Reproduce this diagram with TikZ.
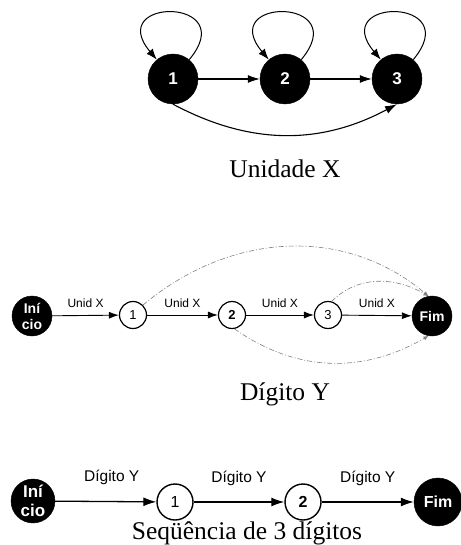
\documentclass[tikz,border=0pt]{standalone}
\usepackage{fontspec}
\setmainfont{Liberation Serif}
\setsansfont{Liberation Sans}
\usetikzlibrary{arrows.meta}
\tikzset{
  bigstate/.style={circle, fill=black, draw=black, inner sep=0pt, minimum size=50pt,
    text=white, font=\sffamily\bfseries\fontsize{17}{19}\selectfont},
  endstate/.style={circle, fill=black, draw=black, inner sep=0pt, text=white, align=center},
  smallstate/.style={circle, draw=black, fill=white, inner sep=0pt, line width=1.2pt},
  toparr/.style={-{Latex[length=12pt,width=8pt]}, line width=1.1pt},
  midarr/.style={-{Latex[length=10pt,width=7pt]}, line width=0.9pt},
  botarr/.style={-{Latex[length=13pt,width=9pt]}, line width=1.3pt},
  dasharr/.style={-{Latex[length=5pt,width=4pt]}, draw=black!50, line width=0.6pt,
    dash pattern=on 5pt off 2pt on 1pt off 2pt},
  caption/.style={anchor=base, inner sep=0pt, font=\rmfamily\fontsize{25.5}{29}\selectfont},
  elabm/.style={midway, anchor=base, inner sep=0pt, yshift=8pt, font=\sffamily\fontsize{12}{14}\selectfont},
  elabb/.style={midway, anchor=base, inner sep=0pt, yshift=20pt, font=\sffamily\fontsize{15.5}{17}\selectfont}
}
\begin{document}
\begin{tikzpicture}[x=1pt,y=1pt]
\useasboundingbox (0,0) rectangle (460,-545);

% ---------- Unidade X ----------
\node[bigstate] (t1) at (173,-79) {1};
\node[bigstate] (t2) at (285,-79) {2};
\node[bigstate] (t3) at (397,-79) {3};
\draw[toparr] (t1) -- (t2);
\draw[toparr] (t2) -- (t3);
\draw[toparr] (t1.south) to[out=-28,in=-152] (t3.south);
\draw[-{Latex[length=11pt,width=8pt]}, line width=1pt] (t1) to[out=50,in=130,min distance=82pt] (t1);
\draw[-{Latex[length=11pt,width=8pt]}, line width=1pt] (t2) to[out=50,in=130,min distance=82pt] (t2);
\draw[-{Latex[length=11pt,width=8pt]}, line width=1pt] (t3) to[out=50,in=130,min distance=82pt] (t3);
\node[caption] (capA) at (285,-178) {Unidade X};

% ---------- Digito Y ----------
\node[endstate, minimum size=40pt, font=\sffamily\bfseries\fontsize{14}{16}\selectfont] (ini) at (32,-316) {Iní\\cio};
\node[smallstate, minimum size=27pt, font=\sffamily\fontsize{13}{15}\selectfont] (m1) at (133,-315) {1};
\node[smallstate, minimum size=27pt, font=\sffamily\bfseries\fontsize{13}{15}\selectfont] (m2) at (232,-315) {2};
\node[smallstate, minimum size=27pt, font=\sffamily\fontsize{13}{15}\selectfont] (m3) at (328,-315) {3};
\node[endstate, minimum size=40pt, font=\sffamily\bfseries\fontsize{14}{16}\selectfont] (fim) at (432,-316) {Fim};
\draw[midarr] (ini) -- node[elabm] {Unid X} (m1);
\draw[midarr] (m1) -- node[elabm] {Unid X} (m2);
\draw[midarr] (m2) -- node[elabm] {Unid X} (m3);
\draw[midarr] (m3) -- node[elabm] {Unid X} (fim);
\draw[dasharr] (m1.45) to[out=40,in=140] (fim.100);
\draw[dasharr] (m3.75) to[out=45,in=150] (fim.100);
\draw[dasharr] (m2.-80) to[out=-35,in=-150] (fim.-100);
\node[caption] (capB) at (285,-400) {Dígito Y};

% ---------- Sequencia ----------
\node[endstate, minimum size=44pt, font=\sffamily\bfseries\fontsize{17}{19}\selectfont] (bini) at (33,-501) {Iní\\cio};
\node[smallstate, minimum size=36pt, line width=1.4pt, font=\sffamily\fontsize{16}{18}\selectfont] (b1) at (175,-502) {1};
\node[smallstate, minimum size=36pt, line width=1.4pt, font=\sffamily\bfseries\fontsize{16}{18}\selectfont] (b2) at (303,-502) {2};
\node[endstate, minimum size=48pt, font=\sffamily\bfseries\fontsize{16}{18}\selectfont] (bfim) at (438,-502) {Fim};
\draw[botarr] (bini) -- node[elabb, xshift=6pt] {Dígito Y} (b1);
\draw[botarr] (b1) -- node[elabb] {Dígito Y} (b2);
\draw[botarr] (b2) -- node[elabb] {Dígito Y} (bfim);
\node[caption] (capC) at (247,-539) {Seqüência de 3 dígitos};
\end{tikzpicture}
\end{document}
